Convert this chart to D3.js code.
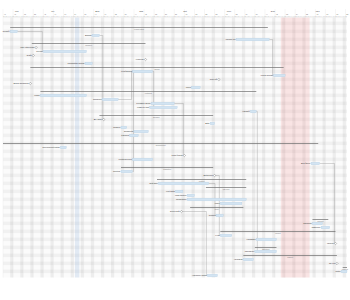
<!DOCTYPE html>
<html>
<head>
<meta charset="utf-8">
<script src="https://cdn.jsdelivr.net/npm/d3@7"></script>
<style>
  body { margin: 0; background: #fff; }
</style>
</head>
<body>
<div class="canvas"></div>
<script>
// gantt rows, top to bottom
var rowCount = 65;

var taskRow = [2, 3, 4, 5, 6, 7, 8, 9, 10, 11, 12, 13, 14, 15, 16, 17, 18, 19, 20, 21, 22, 23,
  24, 25, 26, 27, 28, 29, 31, 32, 34, 35, 36, 37, 38, 39, 40, 41, 42, 43, 44, 45, 46, 47, 48, 49,
  50, 51, 52, 53, 54, 55, 56, 57, 58, 59, 60, 61, 62, 63, 64];
var taskType = ["S","T","T","T","S","M","T","M","M","T","S","T","T","M","M","T","S","T","T","T","T","T",
  "S","M","T","T","T","T","S","T","M","T","T","S","T","M","S","T","S","T","T","T","T","S","M","T",
  "S","T","T","S","T","T","M","S","T","S","T","M","S","T","T"];
var taskName = ["Project setup","Kickoff","Budget","Vendor list","Research","User interviews","Survey","Draft",
  "Findings","Competitor review","Design","Wireframes","Visual design","Sign-off","Brand workshop","Icons",
  "Prototype","Flows","Mockups","Clickable demo","Usability test","Handoff",
  "Backend","API spec","Auth","Models","Endpoints","Caching","Development","Environment setup","Code freeze",
  "Frontend build","Bug fixing","Integration","Routing","Beta build","Testing","Test plan","QA cycle",
  "Unit tests","Load testing","Regression","Fixes","Docs","Docs draft","Guides",
  "Training","Sessions","Materials","Rollout","Pilot","Feedback","Launch","Marketing","Campaign",
  "Support","Helpdesk","Go live","Wrap-up","Retro","Handover notes"];
var taskStart = ["2023-06-17","2023-06-17","2023-08-13","2023-11-21","2023-07-02","2023-07-05","2023-07-10","2023-07-03",
  "2023-09-19","2023-08-08","2023-07-01","2023-09-10","2023-12-17","2023-11-09","2023-07-01","2023-10-21",
  "2023-07-08","2023-07-08","2023-08-20","2023-09-23","2023-09-22","2023-12-01",
  "2023-08-18","2023-08-21","2023-11-03","2023-09-02","2023-09-11","2023-09-08","2023-06-12","2023-07-22","2023-10-16",
  "2023-09-10","2024-01-12","2023-09-02","2023-09-02","2023-11-06","2023-09-27","2023-09-28","2023-10-31",
  "2023-10-10","2023-10-18","2023-10-18","2023-11-10","2023-10-20","2023-10-14","2023-11-07",
  "2024-01-13","2024-01-13","2024-01-19","2023-11-10","2023-11-10","2023-12-05","2024-01-29","2023-12-04","2023-12-04",
  "2023-11-26","2023-11-26","2024-01-30","2024-02-03","2024-02-02","2023-11-01"];
var taskEnd = ["2023-12-13","2023-06-22","2023-08-18","2023-12-14","2023-09-19",null,"2023-08-09",null,
  null,"2023-08-13","2023-12-24","2023-09-24","2023-12-25",null,null,"2023-10-27",
  "2023-12-05","2023-08-09","2023-08-31","2023-10-09","2023-10-11","2023-12-05",
  "2023-11-05",null,"2023-11-06","2023-09-06","2023-09-21","2023-09-14","2024-01-17","2023-07-26",null,
  "2023-09-24","2024-01-18","2023-11-05","2023-09-10",null,"2023-11-28","2023-11-02","2023-11-28",
  "2023-10-15","2023-10-23","2023-11-28","2023-11-25","2023-11-26",null,"2023-11-12",
  "2024-01-24","2024-01-20","2024-01-25","2024-01-29","2023-11-18","2023-12-19",null,"2023-12-19","2023-12-19",
  "2024-01-30","2023-12-03",null,"2024-02-06","2024-02-06","2023-11-08"];

// dependencies, as [from row, to row]
var links = [[3,8],[4,25],[20,13],[38,13],[13,22],[21,34],[48,64],[39,54],[5,14],[36,56],[41,49],[23,58]];

var holiday = ["2023-12-22","2024-01-11"];
var today = ["2023-08-01","2023-08-04"];
var viewStart = "2023-06-12", viewEnd = "2024-02-06";

var W = 350, H = 300;
var top0 = 17.5, rowH = 4;
var parse = d3.timeParse("%Y-%m-%d");

var svg = d3.select(".canvas")
    .append("svg")
    .attr("width", W)
    .attr("height", H)
    .style("font-family", "Roboto, sans-serif");

var x = d3.scaleTime()
    .domain([parse(viewStart), parse(viewEnd)])
    .range([3, 347]);

var y = d3.scaleBand()
    .domain(d3.range(rowCount))
    .range([top0, top0 + rowCount * rowH]);

var yc = function(r) { return y(r) + y.bandwidth() / 2; };
var d0 = x.domain()[0], d1 = x.domain()[1];
var gridTop = top0, gridBottom = top0 + rowCount * rowH;

// row stripes
svg.selectAll("rect.row")
  .data(d3.range(rowCount))
  .enter().append("rect")
    .attr("x", 3)
    .attr("y", function(r) { return y(r); })
    .attr("width", 344)
    .attr("height", y.bandwidth())
    .attr("fill", function(r) { return r % 2 ? "#f1f1f1" : "#fbfbfb"; });

// weekends
svg.selectAll("rect.wknd")
  .data(d3.timeSaturday.range(d3.timeDay.offset(d0, -1), d1))
  .enter().append("rect")
    .attr("x", function(d) { return Math.max(3, x(d)); })
    .attr("y", gridTop)
    .attr("width", function(d) { return Math.min(347, x(d3.timeDay.offset(d, 2))) - Math.max(3, x(d)); })
    .attr("height", gridBottom - gridTop)
    .attr("fill", "rgba(0,0,0,0.055)");

// week lines
svg.selectAll("line.week")
  .data(d3.timeMonday.range(d0, d1))
  .enter().append("line")
    .attr("x1", function(d) { return x(d); })
    .attr("x2", function(d) { return x(d); })
    .attr("y1", 9)
    .attr("y2", gridBottom)
    .attr("stroke", "#e2e2e2")
    .attr("stroke-width", 0.3);

// today + holiday bands
svg.append("rect")
    .attr("x", x(parse(today[0])))
    .attr("y", gridTop)
    .attr("width", x(parse(today[1])) - x(parse(today[0])))
    .attr("height", gridBottom - gridTop)
    .attr("fill", "rgba(150,185,225,0.25)");

svg.append("rect")
    .attr("x", x(parse(holiday[0])))
    .attr("y", gridTop)
    .attr("width", x(parse(holiday[1])) - x(parse(holiday[0])))
    .attr("height", gridBottom - gridTop)
    .attr("fill", "rgba(240,90,90,0.14)");

// header: months
var months = d3.timeMonth.range(d3.timeMonth.floor(d0), d1).map(function(m) {
  var a = Math.max(x(m), 3), b = Math.min(x(d3.timeMonth.offset(m, 1)), 347);
  return {m: m, a: a, b: b};
}).filter(function(d) { return d.b - d.a > 12; });

svg.selectAll("text.month")
  .data(months)
  .enter().append("text")
    .attr("x", function(d) { return (d.a + d.b) / 2; })
    .attr("y", 11.6)
    .attr("text-anchor", "middle")
    .style("font-size", "2.4px")
    .attr("fill", "#555")
    .text(function(d) { return d3.timeFormat("%b")(d.m); });

svg.selectAll("text.week")
  .data(d3.timeMonday.range(d0, d1))
  .enter().append("text")
    .attr("x", function(d) { return x(d) + 0.8; })
    .attr("y", 14.6)
    .style("font-size", "1.8px")
    .attr("fill", "#777")
    .text(function(d) { return d3.timeFormat("%d")(d); });

svg.selectAll("text.day")
  .data(d3.timeDay.range(d0, d1))
  .enter().append("text")
    .attr("x", function(d) { return x(d) + 0.72; })
    .attr("y", 16.8)
    .attr("text-anchor", "middle")
    .style("font-size", "1.1px")
    .attr("fill", "#999")
    .text(function(d) { return d3.timeFormat("%a")(d)[0]; });

svg.append("line")
    .attr("x1", 3).attr("x2", 347)
    .attr("y1", gridTop).attr("y2", gridTop)
    .attr("stroke", "#ddd").attr("stroke-width", 0.3);

// tasks as objects
var tasks = taskRow.map(function(r, i) {
  var s = x(parse(taskStart[i]));
  var e = taskEnd[i] ? x(parse(taskEnd[i])) : s;
  return {row: r, type: taskType[i], name: taskName[i], x0: s, x1: e};
});
var byRow = {};
tasks.forEach(function(t) { byRow[t.row] = t; });

// connectors
svg.selectAll("path.link")
  .data(links)
  .enter().append("path")
    .attr("d", function(l) {
      var a = byRow[l[0]], b = byRow[l[1]];
      var xm = Math.max(a.x1 + 1, b.x0 - 1);
      return "M" + a.x1 + "," + yc(a.row) + "H" + xm + "V" + yc(b.row) + "H" + b.x0;
    })
    .attr("fill", "none")
    .attr("stroke", "#9a9a9a")
    .attr("stroke-width", 0.4);

// summary rows
var sums = tasks.filter(function(t) { return t.type === "S"; });
svg.selectAll("line.sum")
  .data(sums)
  .enter().append("line")
    .attr("x1", function(d) { return d.x0; })
    .attr("x2", function(d) { return d.x1; })
    .attr("y1", function(d) { return yc(d.row); })
    .attr("y2", function(d) { return yc(d.row); })
    .attr("stroke", "#6e6e6e")
    .attr("stroke-width", 0.7);

svg.selectAll("text.sum")
  .data(sums)
  .enter().append("text")
    .attr("x", function(d) { return (d.x0 + d.x1) / 2; })
    .attr("y", function(d) { return yc(d.row) + 2.2; })
    .attr("text-anchor", "middle")
    .style("font-size", "1.7px")
    .attr("fill", "#888")
    .text(function(d) { return d.name; });

// bars
var bars = tasks.filter(function(t) { return t.type === "T"; });
svg.selectAll("rect.bar")
  .data(bars)
  .enter().append("rect")
    .attr("x", function(d) { return d.x0; })
    .attr("y", function(d) { return yc(d.row) - 1.3; })
    .attr("width", function(d) { return Math.max(1, d.x1 - d.x0); })
    .attr("height", 2.6)
    .attr("fill", "#d3e4f2")
    .attr("stroke", "#adc7de")
    .attr("stroke-width", 0.25);

// milestones
var ms = tasks.filter(function(t) { return t.type === "M"; });
svg.selectAll("path.ms")
  .data(ms)
  .enter().append("path")
    .attr("d", function(d) {
      var cx = d.x0, cy = yc(d.row), s = 1.2;
      return "M" + cx + "," + (cy - s) + "L" + (cx + s) + "," + cy + "L" + cx + "," + (cy + s) + "L" + (cx - s) + "," + cy + "Z";
    })
    .attr("fill", "#fff")
    .attr("stroke", "#555")
    .attr("stroke-width", 0.35);

// labels left of bars and milestones
svg.selectAll("text.lbl")
  .data(bars.concat(ms))
  .enter().append("text")
    .attr("x", function(d) { return d.x0 - (d.type === "M" ? 1.8 : 0.8); })
    .attr("y", function(d) { return yc(d.row) + 0.7; })
    .attr("text-anchor", "end")
    .style("font-size", "2.1px")
    .attr("fill", "#444")
    .text(function(d) { return d.name; });
</script>
</body>
</html>
